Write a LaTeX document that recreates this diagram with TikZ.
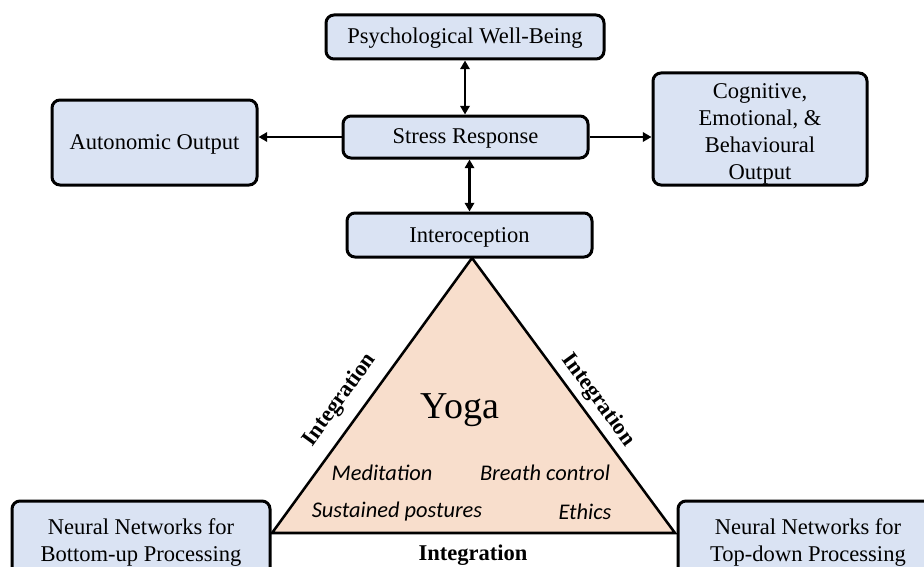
\documentclass[tikz,border=0pt]{standalone}
\usepackage{fontspec}
\setmainfont{Liberation Serif}
\newfontfamily\calfont{Carlito}
\usetikzlibrary{arrows.meta}
\definecolor{boxblue}{RGB}{218,227,243}
\definecolor{peach}{RGB}{248,222,204}
\newcommand{\bodyfs}{\fontsize{16.9}{20.3}\selectfont}
\tikzset{
  bx/.style={draw, line width=2.25pt, rounded corners=6pt, fill=boxblue, inner sep=0pt, align=center, font=\bodyfs},
  arr/.style={line width=1.9pt, -{Triangle[length=6.5pt,width=7pt]}},
  darr/.style={line width=1.9pt, {Triangle[length=6.5pt,width=7pt]}-{Triangle[length=6.5pt,width=7pt]}},
  integ/.style={font=\bodyfs\bfseries},
  practice/.style={font=\calfont\itshape\fontsize{16.8}{20}\selectfont}
}
\begin{document}
\begin{tikzpicture}[x=0.75pt,y=-0.75pt]
\clip (0,0) rectangle (924,567);
\fill[white] (0,0) rectangle (924,567);
% triangle
\coordinate (tl) at (272,533);
\coordinate (tt) at (472,258);
\coordinate (tr) at (675,533);
\draw[line width=1.9pt, fill=peach, line join=miter] (tl) -- (tt) -- (tr) -- cycle;
% boxes
\node[bx, minimum width=208.5pt, minimum height=33pt] (psy) at (465,37) {\rule{0pt}{13.5pt}Psychological Well-Being};
\node[bx, minimum width=153.75pt, minimum height=63.75pt] (auto) at (154.5,142.5) {\rule{0pt}{13.5pt}Autonomic Output};
\node[bx, minimum width=160.5pt, minimum height=84pt] (cog) at (760,129) {\rule{0pt}{19pt}Cognitive,\\Emotional, \&\\Behavioural\\Output};
\node[bx, minimum width=183.75pt, minimum height=31.5pt] (stress) at (465.5,137) {\rule{0pt}{13.5pt}Stress Response};
\node[bx, minimum width=183.75pt, minimum height=33pt] (intero) at (469.5,235) {\rule{0pt}{15pt}Interoception};
\node[bx, minimum width=193.5pt, minimum height=60pt] (bu) at (141,541) {\rule{0pt}{14pt}Neural Networks for\\Bottom-up Processing};
\node[bx, minimum width=195pt, minimum height=60pt] (td) at (808,541) {\rule{0pt}{14pt}Neural Networks for\\Top-down Processing};
% arrows
\draw[darr] (psy.south) -- (stress.north -| psy.south);
\draw[darr] (intero.north |- stress.south) -- (intero.north);
\draw[arr] (stress.west) -- (stress.west -| auto.east);
\draw[arr] (stress.east) -- (stress.east -| cog.west);
% triangle texts
\node[font=\fontsize{28.5}{32}\selectfont] (yoga) at (460,410) {Yoga};
\node[practice] (med) at (382,473) {Meditation};
\node[practice] (bre) at (545,473) {Breath control};
\node[practice] (sus) at (397,512) {Sustained postures};
\node[practice] (eth) at (585,512) {Ethics};
\node[integ, rotate=54, inner sep=0pt] (il) at (340,400) {Integration};
\node[integ, rotate=-54, inner sep=0pt] (ir) at (598,400) {Integration};
\node[integ, inner sep=0pt] (ib) at (473,555) {Integration};
\end{tikzpicture}
\end{document}
